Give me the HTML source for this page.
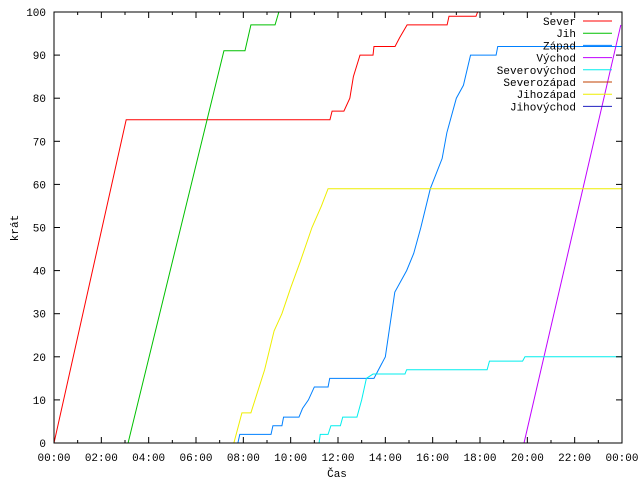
<!DOCTYPE html>
<html><head><meta charset="utf-8"><style>
body{margin:0;background:#fff}
svg{display:block}
text{font-family:"Liberation Mono",monospace;font-size:11px;fill:#000}
</style></head><body>
<svg id="chart" width="640" height="480" xmlns="http://www.w3.org/2000/svg">
<rect x="0" y="0" width="640" height="480" fill="#fff"/>
<g id="grid"></g>
<g id="series"></g>
<rect x="54" y="12" width="568" height="431" fill="none" stroke="#000" stroke-width="1"/>
<g id="axes"></g>
<text x="337" y="477" text-anchor="middle">Čas</text>
<text x="18" y="228" text-anchor="middle" transform="rotate(-90 18 228)">krát</text>
<g id="legend"></g>
</svg>
<script>
const seriesNames = ["Sever","Jih","Západ","Východ","Severovýchod","Severozápad","Jihozápad","Jihovýchod"];
const seriesColors = ["#ff0000","#00c000","#0080ff","#c000ff","#00eeee","#c04000","#eeee00","#2020c0"];
const xTickLabels = ["00:00","02:00","04:00","06:00","08:00","10:00","12:00","14:00","16:00","18:00","20:00","22:00","00:00"];
const yTickValues = [0,10,20,30,40,50,60,70,80,90,100];
// [hour, count]
const sever = [[0,0],[3.05,75],[11.66,75],[11.75,77],[12.25,77],[12.5,80],[12.65,85],[12.93,90],[13.48,90],[13.52,92],[14.41,92],[14.6,94],[14.92,97],[16.61,97],[16.69,99],[17.83,99],[17.9,100]];
const jih = [[3.13,0],[7.18,91],[8.07,91],[8.32,97],[9.34,97],[9.5,100]];
const zapad = [[7.77,0],[7.85,2],[9.17,2],[9.25,4],[9.63,4],[9.7,6],[10.35,6],[10.5,8],[10.75,10],[11.0,13],[11.58,13],[11.65,15],[13.52,15],[14.0,20],[14.4,35],[14.9,40],[15.2,44],[15.5,50],[15.9,59],[16.4,66],[16.6,72],[17.0,80],[17.3,83],[17.6,90],[18.68,90],[18.75,92],[24,92]];
const vychod = [[19.86,0],[23.95,97]];
const severovychod = [[11.2,0],[11.25,2],[11.58,2],[11.7,4],[12.1,4],[12.2,6],[12.8,6],[13.0,10],[13.2,15],[13.48,16],[14.83,16],[14.9,17],[18.3,17],[18.4,19],[19.8,19],[19.9,20],[24,20]];
const severozapad = [];
const jihozapad = [[7.6,0],[7.94,7],[8.32,7],[8.9,17],[9.3,26],[9.63,30],[10.0,36],[10.4,42],[10.9,50],[11.3,55],[11.58,59],[24,59]];
const jihovychod = [];
const allSeries = [sever,jih,zapad,vychod,severovychod,severozapad,jihozapad,jihovychod];

const NS="http://www.w3.org/2000/svg";
const X0=54,X1=622,Y0=443,Y1=12;
function xs(h){return X0+h*(X1-X0)/24;}
function ys(v){return Y0-v*(Y0-Y1)/100;}
function mk(tag,attrs,parent){const e=document.createElementNS(NS,tag);for(const k in attrs)e.setAttribute(k,attrs[k]);parent.appendChild(e);return e;}
const axes=document.getElementById('axes');
for(let h=0;h<=24;h++){
  const x=xs(h), len=(h%2===0)?6:3;
  const t1=mk('line',{x1:x,y1:Y0,x2:x,y2:Y0-len,stroke:'#000'},axes);
  
  
  const t2=mk('line',{x1:x,y1:Y1,x2:x,y2:Y1+len,stroke:'#000'},axes);
  
  
}
xTickLabels.forEach((l,i)=>{
  const t=mk('text',{x:xs(i*2),y:461,'text-anchor':'middle'},axes);
  t.textContent=l;
  
  
});
yTickValues.forEach(v=>{
  const y=ys(v);
  const a=mk('line',{x1:X0,y1:y,x2:X0+6,y2:y,stroke:'#000'},axes);
  
  
  const b=mk('line',{x1:X1,y1:y,x2:X1-6,y2:y,stroke:'#000'},axes);
  
  
  const t=mk('text',{x:46,y:y+4,'text-anchor':'end'},axes);
  t.textContent=v;
  
  
});
const sg=document.getElementById('series');
allSeries.forEach((s,i)=>{
  if(!s.length)return;
  const p=mk('polyline',{points:s.map(d=>xs(d[0])+','+ys(d[1])).join(' '),fill:'none',stroke:seriesColors[i],'stroke-width':1},sg);
  
  
});
const lg=document.getElementById('legend');
seriesNames.forEach((n,i)=>{
  const y=21+i*12.2;
  const t=mk('text',{x:576,y:y+4,'text-anchor':'end'},lg);
  t.textContent=n;
  
  
  const l=mk('line',{x1:583,y1:y,x2:612,y2:y,stroke:seriesColors[i],'stroke-width':1},lg);
  
  
});
</script>
</body></html>
